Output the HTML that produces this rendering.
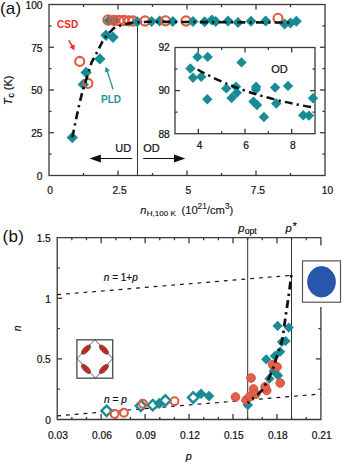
<!DOCTYPE html>
<html><head><meta charset="utf-8"><style>
html,body{margin:0;padding:0;background:#fff;}
svg{display:block;font-family:"Liberation Sans",sans-serif;}
text{stroke:#111;stroke-width:0.22px;}
</style></head><body>
<svg width="342" height="463" viewBox="0 0 342 463">
<rect width="342" height="463" fill="#fff"/>
<g stroke="#3a3a3a" stroke-width="1.3" fill="none">
<rect x="49" y="4.5" width="276" height="171.0"/>
<line x1="118.00" y1="175.5" x2="118.00" y2="170.5"/><line x1="118.00" y1="4.5" x2="118.00" y2="9.5"/><line x1="187.00" y1="175.5" x2="187.00" y2="170.5"/><line x1="187.00" y1="4.5" x2="187.00" y2="9.5"/><line x1="256.00" y1="175.5" x2="256.00" y2="170.5"/><line x1="256.00" y1="4.5" x2="256.00" y2="9.5"/>
<line x1="83.50" y1="175.5" x2="83.50" y2="173.0"/><line x1="83.50" y1="4.5" x2="83.50" y2="7.0"/><line x1="152.50" y1="175.5" x2="152.50" y2="173.0"/><line x1="152.50" y1="4.5" x2="152.50" y2="7.0"/><line x1="221.50" y1="175.5" x2="221.50" y2="173.0"/><line x1="221.50" y1="4.5" x2="221.50" y2="7.0"/><line x1="290.50" y1="175.5" x2="290.50" y2="173.0"/><line x1="290.50" y1="4.5" x2="290.50" y2="7.0"/>
<line x1="49" y1="132.75" x2="54" y2="132.75"/><line x1="325" y1="132.75" x2="320" y2="132.75"/><line x1="49" y1="90.00" x2="54" y2="90.00"/><line x1="325" y1="90.00" x2="320" y2="90.00"/><line x1="49" y1="47.25" x2="54" y2="47.25"/><line x1="325" y1="47.25" x2="320" y2="47.25"/>
<line x1="49" y1="154.12" x2="51.5" y2="154.12"/><line x1="325" y1="154.12" x2="322.5" y2="154.12"/><line x1="49" y1="111.38" x2="51.5" y2="111.38"/><line x1="325" y1="111.38" x2="322.5" y2="111.38"/><line x1="49" y1="68.62" x2="51.5" y2="68.62"/><line x1="325" y1="68.62" x2="322.5" y2="68.62"/><line x1="49" y1="25.88" x2="51.5" y2="25.88"/><line x1="325" y1="25.88" x2="322.5" y2="25.88"/>
</g>
<line x1="137.5" y1="22" x2="137.5" y2="175.5" stroke="#333" stroke-width="1"/>
<g font-size="10.2" fill="#111" text-anchor="end">
<text x="42.5" y="8.6">100</text>
<text x="42.5" y="51.6">75</text>
<text x="42.5" y="94.3">50</text>
<text x="42.5" y="137.0">25</text>
<text x="42.5" y="179.8">0</text>
</g>
<g font-size="10.2" fill="#111" text-anchor="middle">
<text x="50.2" y="194.0">0</text>
<text x="119.5" y="194.0">2.5</text>
<text x="188.3" y="194.0">5</text>
<text x="257.9" y="194.0">7.5</text>
<text x="327.4" y="194.0">10</text>
</g>
<text x="-0.1" y="13.6" font-size="17" fill="#111" letter-spacing="0.3" style="stroke:none">(a)</text>
<g transform="translate(11.5,90.3) rotate(-90)"><text x="0" y="0" text-anchor="middle" font-size="11" fill="#111"><tspan font-style="italic">T</tspan><tspan font-size="8.6" dy="2.4" dx="0.8">c</tspan><tspan dy="-2.4"> (K)</tspan></text></g>
<text x="140.3" y="214.0" font-size="11.2" fill="#111" style="stroke-width:0.12px"><tspan font-style="italic">n</tspan><tspan font-size="8" dy="1.6" dx="0.3">H,100 K</tspan><tspan dy="-1.6" dx="2.6"> (10</tspan><tspan font-size="8.3" dy="-4.6">21</tspan><tspan dy="4.6">/cm</tspan><tspan font-size="8.3" dy="-4.6">3</tspan><tspan dy="4.6">)</tspan></text>
<g stroke="#111" stroke-width="1.2"><line x1="132.3" y1="158.5" x2="99" y2="158.5"/><line x1="143.2" y1="158.5" x2="176" y2="158.5"/></g>
<path d="M89.6 158.5 L100.9 154.5 L100.9 162.5 Z" fill="#111"/>
<path d="M185.3 158.5 L174.0 154.5 L174.0 162.5 Z" fill="#111"/>
<text x="131.2" y="152.4" font-size="11" fill="#111" text-anchor="end">UD</text>
<text x="143.2" y="152.4" font-size="11" fill="#111">OD</text>
<g stroke="#3a3a3a" stroke-width="1.3" fill="none">
<rect x="175" y="47.5" width="140" height="86.19999999999999" fill="#fff"/>
<line x1="198.33" y1="133.7" x2="198.33" y2="128.7"/><line x1="198.33" y1="47.5" x2="198.33" y2="52.5"/><line x1="245.00" y1="133.7" x2="245.00" y2="128.7"/><line x1="245.00" y1="47.5" x2="245.00" y2="52.5"/><line x1="291.66" y1="133.7" x2="291.66" y2="128.7"/><line x1="291.66" y1="47.5" x2="291.66" y2="52.5"/>
<line x1="221.67" y1="133.7" x2="221.67" y2="131.2"/><line x1="221.67" y1="47.5" x2="221.67" y2="50.0"/><line x1="268.33" y1="133.7" x2="268.33" y2="131.2"/><line x1="268.33" y1="47.5" x2="268.33" y2="50.0"/>
<line x1="175" y1="90.60" x2="180" y2="90.60"/><line x1="315" y1="90.60" x2="310" y2="90.60"/>
<line x1="175" y1="112.15" x2="177.5" y2="112.15"/><line x1="315" y1="112.15" x2="312.5" y2="112.15"/><line x1="175" y1="69.05" x2="177.5" y2="69.05"/><line x1="315" y1="69.05" x2="312.5" y2="69.05"/>
</g>
<g font-size="10.2" fill="#111" text-anchor="end">
<text x="169.8" y="51.3">92</text>
<text x="169.8" y="94.4">90</text>
<text x="169.8" y="137.5">88</text>
</g>
<g font-size="10.2" fill="#111" text-anchor="middle">
<text x="199.5" y="148.6">4</text>
<text x="246.2" y="148.6">6</text>
<text x="292.9" y="148.6">8</text>
</g>
<text x="271.2" y="73.3" font-size="11" fill="#111">OD</text>
<path d="M192.3 56.9L197.5 51.7L202.7 56.9L197.5 62.1Z" fill="#178c94" stroke="none" stroke-width="0"/>
<path d="M202.5 56.9L207.7 51.7L212.9 56.9L207.7 62.1Z" fill="#178c94" stroke="none" stroke-width="0"/>
<path d="M236.3 62.4L241.5 57.2L246.7 62.4L241.5 67.6Z" fill="#178c94" stroke="none" stroke-width="0"/>
<path d="M185.2 68.5L190.4 63.3L195.6 68.5L190.4 73.7Z" fill="#178c94" stroke="none" stroke-width="0"/>
<path d="M187.8 77.7L193.0 72.5L198.2 77.7L193.0 82.9Z" fill="#178c94" stroke="none" stroke-width="0"/>
<path d="M196.0 76.7L201.2 71.5L206.4 76.7L201.2 81.9Z" fill="#178c94" stroke="none" stroke-width="0"/>
<path d="M202.1 99.2L207.3 94.0L212.5 99.2L207.3 104.4Z" fill="#178c94" stroke="none" stroke-width="0"/>
<path d="M221.1 88.4L226.3 83.2L231.5 88.4L226.3 93.6Z" fill="#178c94" stroke="none" stroke-width="0"/>
<path d="M230.8 86.7L236.0 81.5L241.2 86.7L236.0 91.9Z" fill="#178c94" stroke="none" stroke-width="0"/>
<path d="M226.4 98.0L231.6 92.8L236.8 98.0L231.6 103.2Z" fill="#178c94" stroke="none" stroke-width="0"/>
<path d="M231.6 92.8L236.8 87.6L242.0 92.8L236.8 98.0Z" fill="#178c94" stroke="none" stroke-width="0"/>
<path d="M250.9 86.7L256.1 81.5L261.3 86.7L256.1 91.9Z" fill="#178c94" stroke="none" stroke-width="0"/>
<path d="M250.7 89.4L255.9 84.2L261.1 89.4L255.9 94.6Z" fill="#178c94" stroke="none" stroke-width="0"/>
<path d="M248.3 101.6L253.5 96.4L258.7 101.6L253.5 106.8Z" fill="#178c94" stroke="none" stroke-width="0"/>
<path d="M251.8 105.0L257.0 99.8L262.2 105.0L257.0 110.2Z" fill="#178c94" stroke="none" stroke-width="0"/>
<path d="M269.9 87.6L275.1 82.4L280.3 87.6L275.1 92.8Z" fill="#178c94" stroke="none" stroke-width="0"/>
<path d="M282.8 85.9L288.0 80.7L293.2 85.9L288.0 91.1Z" fill="#178c94" stroke="none" stroke-width="0"/>
<path d="M271.1 103.5L276.3 98.3L281.5 103.5L276.3 108.7Z" fill="#178c94" stroke="none" stroke-width="0"/>
<path d="M258.7 117.0L263.9 111.8L269.1 117.0L263.9 122.2Z" fill="#178c94" stroke="none" stroke-width="0"/>
<path d="M298.0 115.2L303.2 110.0L308.4 115.2L303.2 120.4Z" fill="#178c94" stroke="none" stroke-width="0"/>
<path d="M303.8 115.6L309.0 110.4L314.2 115.6L309.0 120.8Z" fill="#178c94" stroke="none" stroke-width="0"/>
<path d="M307.8 98.3L313.0 93.1L318.2 98.3L313.0 103.5Z" fill="#178c94" stroke="none" stroke-width="0"/>
<path d="M197.6 69.5 Q244 96 313.6 107.5" fill="none" stroke="#111" stroke-width="2.5" stroke-dasharray="8 4.2 2.3 4.2"/>
<path d="M100.3 35.2L106.0 29.5L111.7 35.2L106.0 40.9Z" fill="#178c94" stroke="none" stroke-width="0"/>
<path d="M107.3 37.2L113.0 31.5L118.7 37.2L113.0 42.9Z" fill="#178c94" stroke="none" stroke-width="0"/>
<path d="M94.2 58.9L99.9 53.2L105.6 58.9L99.9 64.6Z" fill="#178c94" stroke="none" stroke-width="0"/>
<path d="M80.4 72.4L86.1 66.7L91.8 72.4L86.1 78.1Z" fill="#178c94" stroke="none" stroke-width="0"/>
<path d="M77.6 84.4L83.3 78.7L89.0 84.4L83.3 90.1Z" fill="#178c94" stroke="none" stroke-width="0"/>
<path d="M66.6 137.5L72.3 131.8L78.0 137.5L72.3 143.2Z" fill="#178c94" stroke="none" stroke-width="0"/>
<path d="M103.5 20.5L109.0 15.0L114.5 20.5L109.0 26.0Z" fill="#178c94" stroke="none" stroke-width="0"/>
<path d="M109.0 21.0L114.5 15.5L120.0 21.0L114.5 26.5Z" fill="#178c94" stroke="none" stroke-width="0"/>
<circle cx="108" cy="20" r="4.6" fill="none" stroke="#e2583f" stroke-width="2.1"/>
<circle cx="114" cy="20.3" r="4.6" fill="none" stroke="#e2583f" stroke-width="2.1"/>
<circle cx="119" cy="20.5" r="4.6" fill="none" stroke="#e2583f" stroke-width="2.1"/>
<circle cx="124" cy="20.5" r="4.6" fill="none" stroke="#e2583f" stroke-width="2.1"/>
<circle cx="129" cy="20.8" r="4.6" fill="none" stroke="#e2583f" stroke-width="2.1"/>
<circle cx="133" cy="21" r="4.6" fill="none" stroke="#e2583f" stroke-width="2.1"/>
<path d="M131.8 21.7L137.3 16.2L142.8 21.7L137.3 27.2Z" fill="#178c94" stroke="none" stroke-width="0"/>
<circle cx="145" cy="21" r="4.6" fill="none" stroke="#e2583f" stroke-width="2.1"/>
<path d="M146.1 21.5L151.6 16.0L157.1 21.5L151.6 27.0Z" fill="#178c94" stroke="none" stroke-width="0"/>
<path d="M154.1 21.0L159.6 15.5L165.1 21.0L159.6 26.5Z" fill="#178c94" stroke="none" stroke-width="0"/>
<circle cx="165.5" cy="20.8" r="4.6" fill="none" stroke="#e2583f" stroke-width="2.1"/>
<path d="M167.3 21.5L172.8 16.0L178.3 21.5L172.8 27.0Z" fill="#178c94" stroke="none" stroke-width="0"/>
<circle cx="186" cy="21" r="4.6" fill="none" stroke="#e2583f" stroke-width="2.1"/>
<path d="M187.5 21.5L193.0 16.0L198.5 21.5L193.0 27.0Z" fill="#178c94" stroke="none" stroke-width="0"/>
<path d="M199.1 21.7L204.6 16.2L210.1 21.7L204.6 27.2Z" fill="#178c94" stroke="none" stroke-width="0"/>
<path d="M206.4 20.0L211.9 14.5L217.4 20.0L211.9 25.5Z" fill="#178c94" stroke="none" stroke-width="0"/>
<path d="M210.1 21.5L215.6 16.0L221.1 21.5L215.6 27.0Z" fill="#178c94" stroke="none" stroke-width="0"/>
<path d="M222.5 21.0L228.0 15.5L233.5 21.0L228.0 26.5Z" fill="#178c94" stroke="none" stroke-width="0"/>
<path d="M232.5 22.4L238.0 16.9L243.5 22.4L238.0 27.9Z" fill="#178c94" stroke="none" stroke-width="0"/>
<path d="M245.5 21.3L251.0 15.8L256.5 21.3L251.0 26.8Z" fill="#178c94" stroke="none" stroke-width="0"/>
<path d="M260.2 21.0L265.7 15.5L271.2 21.0L265.7 26.5Z" fill="#178c94" stroke="none" stroke-width="0"/>
<path d="M279.1 23.9L284.6 18.4L290.1 23.9L284.6 29.4Z" fill="#178c94" stroke="none" stroke-width="0"/>
<path d="M285.0 23.0L290.5 17.5L296.0 23.0L290.5 28.5Z" fill="#178c94" stroke="none" stroke-width="0"/>
<path d="M290.8 21.3L296.3 15.8L301.8 21.3L296.3 26.8Z" fill="#178c94" stroke="none" stroke-width="0"/>
<circle cx="278" cy="18.3" r="4.5" fill="none" stroke="#e2583f" stroke-width="2.1"/>
<circle cx="79.7" cy="61.4" r="4.5" fill="none" stroke="#e2583f" stroke-width="2.1"/>
<circle cx="87.9" cy="83.4" r="4.5" fill="none" stroke="#e2583f" stroke-width="2.1"/>
<path d="M72.3 137.5 L75.1 123.8 L78.8 106.4 L82.4 91.7 L87.0 77.0 L91.6 62.3 L97.3 51.8 L102.5 41.3 L106.9 35.2 L113.9 28.2 L122.7 24.6 L131.5 22.9 L137.6 22.2 L150.0 21.8 L292.0 22.6" fill="none" stroke="#111" stroke-width="2.6" stroke-dasharray="8 4.2 2.3 4.2"/>
<text x="57" y="27.6" font-size="10" font-weight="bold" fill="#f02a2a" style="stroke:none">CSD</text>
<text x="101.1" y="102.8" font-size="10" font-weight="bold" fill="#249494" style="stroke:none">PLD</text>
<line x1="68.8" y1="40.3" x2="72.6" y2="46.5" stroke="#f02a2a" stroke-width="1.5"/><path d="M74.4 50.4 L69.5 46.9 L74.7 44.4 Z" fill="#f02a2a"/>
<line x1="113" y1="89.2" x2="107.2" y2="71" stroke="#249494" stroke-width="1.3"/><path d="M105.7 66.8 L104.8 72.6 L110 70.8 Z" fill="#249494"/>
<g stroke="#3a3a3a" stroke-width="1.3" fill="none">
<path d="M57.2 237.7 H320.9 V419.5 H57.2 Z"/>
<line x1="101.15" y1="419.5" x2="101.15" y2="414.0"/><line x1="101.15" y1="237.7" x2="101.15" y2="243.2"/><line x1="145.10" y1="419.5" x2="145.10" y2="414.0"/><line x1="145.10" y1="237.7" x2="145.10" y2="243.2"/><line x1="189.05" y1="419.5" x2="189.05" y2="414.0"/><line x1="189.05" y1="237.7" x2="189.05" y2="243.2"/><line x1="233.00" y1="419.5" x2="233.00" y2="414.0"/><line x1="233.00" y1="237.7" x2="233.00" y2="243.2"/><line x1="276.95" y1="419.5" x2="276.95" y2="414.0"/><line x1="276.95" y1="237.7" x2="276.95" y2="243.2"/>
<line x1="71.85" y1="419.5" x2="71.85" y2="417.0"/><line x1="71.85" y1="237.7" x2="71.85" y2="240.2"/><line x1="86.50" y1="419.5" x2="86.50" y2="417.0"/><line x1="86.50" y1="237.7" x2="86.50" y2="240.2"/><line x1="115.80" y1="419.5" x2="115.80" y2="417.0"/><line x1="115.80" y1="237.7" x2="115.80" y2="240.2"/><line x1="130.45" y1="419.5" x2="130.45" y2="417.0"/><line x1="130.45" y1="237.7" x2="130.45" y2="240.2"/><line x1="159.75" y1="419.5" x2="159.75" y2="417.0"/><line x1="159.75" y1="237.7" x2="159.75" y2="240.2"/><line x1="174.40" y1="419.5" x2="174.40" y2="417.0"/><line x1="174.40" y1="237.7" x2="174.40" y2="240.2"/><line x1="203.70" y1="419.5" x2="203.70" y2="417.0"/><line x1="203.70" y1="237.7" x2="203.70" y2="240.2"/><line x1="218.35" y1="419.5" x2="218.35" y2="417.0"/><line x1="218.35" y1="237.7" x2="218.35" y2="240.2"/><line x1="247.65" y1="419.5" x2="247.65" y2="417.0"/><line x1="247.65" y1="237.7" x2="247.65" y2="240.2"/><line x1="262.30" y1="419.5" x2="262.30" y2="417.0"/><line x1="262.30" y1="237.7" x2="262.30" y2="240.2"/><line x1="291.60" y1="419.5" x2="291.60" y2="417.0"/><line x1="291.60" y1="237.7" x2="291.60" y2="240.2"/><line x1="306.25" y1="419.5" x2="306.25" y2="417.0"/><line x1="306.25" y1="237.7" x2="306.25" y2="240.2"/>
<line x1="57.2" y1="358.90" x2="62.2" y2="358.90"/><line x1="320.9" y1="358.90" x2="315.9" y2="358.90"/><line x1="57.2" y1="298.30" x2="62.2" y2="298.30"/><line x1="320.9" y1="298.30" x2="315.9" y2="298.30"/>
<line x1="57.2" y1="389.20" x2="59.7" y2="389.20"/><line x1="320.9" y1="389.20" x2="318.4" y2="389.20"/><line x1="57.2" y1="328.60" x2="59.7" y2="328.60"/><line x1="320.9" y1="328.60" x2="318.4" y2="328.60"/><line x1="57.2" y1="268.00" x2="59.7" y2="268.00"/><line x1="320.9" y1="268.00" x2="318.4" y2="268.00"/>
</g>
<line x1="247.7" y1="237.7" x2="247.7" y2="419.5" stroke="#333" stroke-width="1"/>
<line x1="291.5" y1="237.7" x2="291.5" y2="419.5" stroke="#333" stroke-width="1"/>
<text x="2.6" y="242" font-size="17" fill="#111" letter-spacing="0.3" style="stroke:none">(b)</text>
<g font-size="10.2" fill="#111" text-anchor="end">
<text x="50.8" y="241.9">1.5</text>
<text x="50.8" y="302.5">1</text>
<text x="50.8" y="363.1">0.5</text>
<text x="50.8" y="423.7">0</text>
</g>
<g font-size="10.2" fill="#111" text-anchor="middle">
<text x="58.0" y="439.2">0.03</text>
<text x="102.0" y="439.2">0.06</text>
<text x="145.9" y="439.2">0.09</text>
<text x="189.9" y="439.2">0.12</text>
<text x="233.8" y="439.2">0.15</text>
<text x="277.8" y="439.2">0.18</text>
<text x="321.7" y="439.2">0.21</text>
</g>
<text x="188.8" y="460.3" font-size="10.8" font-style="italic" fill="#111" text-anchor="middle">p</text>
<g transform="translate(21.3,328.3) rotate(-90)"><text x="0" y="0" text-anchor="middle" font-size="10.5" font-style="italic" fill="#111">n</text></g>
<text x="238.3" y="231.6" font-size="11.2" fill="#111"><tspan font-style="italic">p</tspan><tspan font-size="8.6" dy="2.0" dx="0.2">opt</tspan></text>
<text x="285.6" y="231.6" font-size="11.2" fill="#111"><tspan font-style="italic">p</tspan><tspan font-size="10.5" dy="-1.2" dx="1.0">*</tspan></text>
<text x="103.8" y="281.2" font-size="10" fill="#111"><tspan font-style="italic">n</tspan> = 1+<tspan font-style="italic">p</tspan></text>
<text x="104" y="402.6" font-size="10.2" fill="#111"><tspan font-style="italic">n</tspan> = <tspan font-style="italic">p</tspan></text>
<line x1="57.2" y1="294.7" x2="291.5" y2="275.3" stroke="#111" stroke-width="1.2" stroke-dasharray="3.8 5"/>
<line x1="57.2" y1="415.9" x2="320.9" y2="394.0" stroke="#111" stroke-width="1.2" stroke-dasharray="3.8 5"/>
<rect x="318" y="245.5" width="6" height="61.5" fill="#fff"/>
<rect x="302.5" y="260.9" width="38" height="41.3" fill="#fff" stroke="#555" stroke-width="1.2"/>
<ellipse cx="321.5" cy="281.8" rx="14" ry="15.3" fill="#2856aa" stroke="#2450a0" stroke-width="0.8"/>
<rect x="76.9" y="339.8" width="35.8" height="38.4" fill="#fff" stroke="#555" stroke-width="1.4"/>
<path d="M94.8 339.6 L112.7 358.5 L95.5 378.2 L77 358.5 Z" fill="none" stroke="#222" stroke-width="0.7"/>
<g transform="translate(86,349.6) rotate(-45)"><ellipse rx="6" ry="2.6" fill="#d42a22" stroke="#444" stroke-width="0.7"/><line x1="-4" y1="0" x2="4" y2="0" stroke="#7a1010" stroke-width="0.6"/></g>
<g transform="translate(103.9,349.6) rotate(45)"><ellipse rx="6" ry="2.6" fill="#d42a22" stroke="#444" stroke-width="0.7"/><line x1="-4" y1="0" x2="4" y2="0" stroke="#7a1010" stroke-width="0.6"/></g>
<g transform="translate(86,368.9) rotate(45)"><ellipse rx="6" ry="2.6" fill="#d42a22" stroke="#444" stroke-width="0.7"/><line x1="-4" y1="0" x2="4" y2="0" stroke="#7a1010" stroke-width="0.6"/></g>
<g transform="translate(103.9,368.9) rotate(-45)"><ellipse rx="6" ry="2.6" fill="#d42a22" stroke="#444" stroke-width="0.7"/><line x1="-4" y1="0" x2="4" y2="0" stroke="#7a1010" stroke-width="0.6"/></g>
<path d="M101.4 410.8L106.6 405.6L111.8 410.8L106.6 416.0Z" fill="#fff" stroke="#178c94" stroke-width="2.4"/>
<path d="M135.7 405.8L140.9 400.6L146.1 405.8L140.9 411.0Z" fill="#fff" stroke="#178c94" stroke-width="2.4"/>
<path d="M147.6 405.1L152.8 399.9L158.0 405.1L152.8 410.3Z" fill="#fff" stroke="#178c94" stroke-width="2.4"/>
<path d="M160.1 400.5L165.3 395.3L170.5 400.5L165.3 405.7Z" fill="#fff" stroke="#178c94" stroke-width="2.4"/>
<path d="M188.0 397.5L193.2 392.3L198.4 397.5L193.2 402.7Z" fill="#fff" stroke="#178c94" stroke-width="2.4"/>
<path d="M153.7 403.4L159.3 397.8L164.9 403.4L159.3 409.0Z" fill="#178c94" stroke="none" stroke-width="0"/>
<circle cx="114.6" cy="413.9" r="3.9" fill="none" stroke="#e2583f" stroke-width="2.1"/>
<circle cx="123.9" cy="412.7" r="3.9" fill="none" stroke="#e2583f" stroke-width="2.1"/>
<circle cx="142.9" cy="403.8" r="3.9" fill="none" stroke="#e2583f" stroke-width="2.1"/>
<circle cx="174.5" cy="401.2" r="3.9" fill="none" stroke="#e2583f" stroke-width="2.1"/>
<path d="M195.7 393.7L201.0 388.4L206.3 393.7L201.0 399.0Z" fill="#178c94" stroke="none" stroke-width="0"/>
<path d="M203.7 396.1L209.0 390.8L214.3 396.1L209.0 401.4Z" fill="#178c94" stroke="none" stroke-width="0"/>
<path d="M242.5 405.0L247.8 399.7L253.1 405.0L247.8 410.3Z" fill="#178c94" stroke="none" stroke-width="0"/>
<path d="M272.5 325.9L277.6 320.8L282.7 325.9L277.6 331.0Z" fill="#178c94" stroke="none" stroke-width="0"/>
<path d="M283.7 327.6L288.8 322.5L293.9 327.6L288.8 332.7Z" fill="#178c94" stroke="none" stroke-width="0"/>
<path d="M280.5 341.0L285.6 335.9L290.7 341.0L285.6 346.1Z" fill="#178c94" stroke="none" stroke-width="0"/>
<path d="M276.8 342.0L281.9 336.9L287.0 342.0L281.9 347.1Z" fill="#178c94" stroke="none" stroke-width="0"/>
<path d="M275.1 351.7L280.2 346.6L285.3 351.7L280.2 356.8Z" fill="#178c94" stroke="none" stroke-width="0"/>
<path d="M269.7 356.0L274.8 350.9L279.9 356.0L274.8 361.1Z" fill="#178c94" stroke="none" stroke-width="0"/>
<path d="M261.1 359.3L266.2 354.2L271.3 359.3L266.2 364.4Z" fill="#178c94" stroke="none" stroke-width="0"/>
<path d="M268.6 371.0L273.7 365.9L278.8 371.0L273.7 376.1Z" fill="#178c94" stroke="none" stroke-width="0"/>
<path d="M272.9 375.4L278.0 370.3L283.1 375.4L278.0 380.5Z" fill="#178c94" stroke="none" stroke-width="0"/>
<path d="M264.3 378.7L269.4 373.6L274.5 378.7L269.4 383.8Z" fill="#178c94" stroke="none" stroke-width="0"/>
<circle cx="235.5" cy="397" r="4.3" fill="#e2614d" stroke="#d94a33" stroke-width="1"/>
<circle cx="251" cy="378" r="4.3" fill="#e2614d" stroke="#d94a33" stroke-width="1"/>
<circle cx="253.5" cy="389" r="4.3" fill="#e2614d" stroke="#d94a33" stroke-width="1"/>
<circle cx="255.7" cy="394.1" r="4.3" fill="#e2614d" stroke="#d94a33" stroke-width="1"/>
<circle cx="246.2" cy="400" r="4.3" fill="#e2614d" stroke="#d94a33" stroke-width="1"/>
<circle cx="249.9" cy="396.3" r="4.3" fill="#e2614d" stroke="#d94a33" stroke-width="1"/>
<circle cx="266.7" cy="390.5" r="4.3" fill="#e2614d" stroke="#d94a33" stroke-width="1"/>
<circle cx="265.2" cy="386.8" r="4.3" fill="#e2614d" stroke="#d94a33" stroke-width="1"/>
<circle cx="272.6" cy="364.7" r="4.3" fill="#e2614d" stroke="#d94a33" stroke-width="1"/>
<circle cx="277" cy="366.8" r="4.3" fill="#e2614d" stroke="#d94a33" stroke-width="1"/>
<circle cx="280.2" cy="383" r="4.3" fill="#e2614d" stroke="#d94a33" stroke-width="1"/>
<path d="M291.3 275.1 L289.2 292.0 L287.3 305.0 L285.6 316.0 L284.3 326.0 L282.3 339.9 L278.0 352.8 L273.7 366.8 L268.3 379.7 L261.9 390.5 L257.5 394.8 L252.0 399.0 L247.5 403.0" fill="none" stroke="#111" stroke-width="2.8" stroke-dasharray="2.3 4.2 8 4.2"/>
</svg></body></html>
